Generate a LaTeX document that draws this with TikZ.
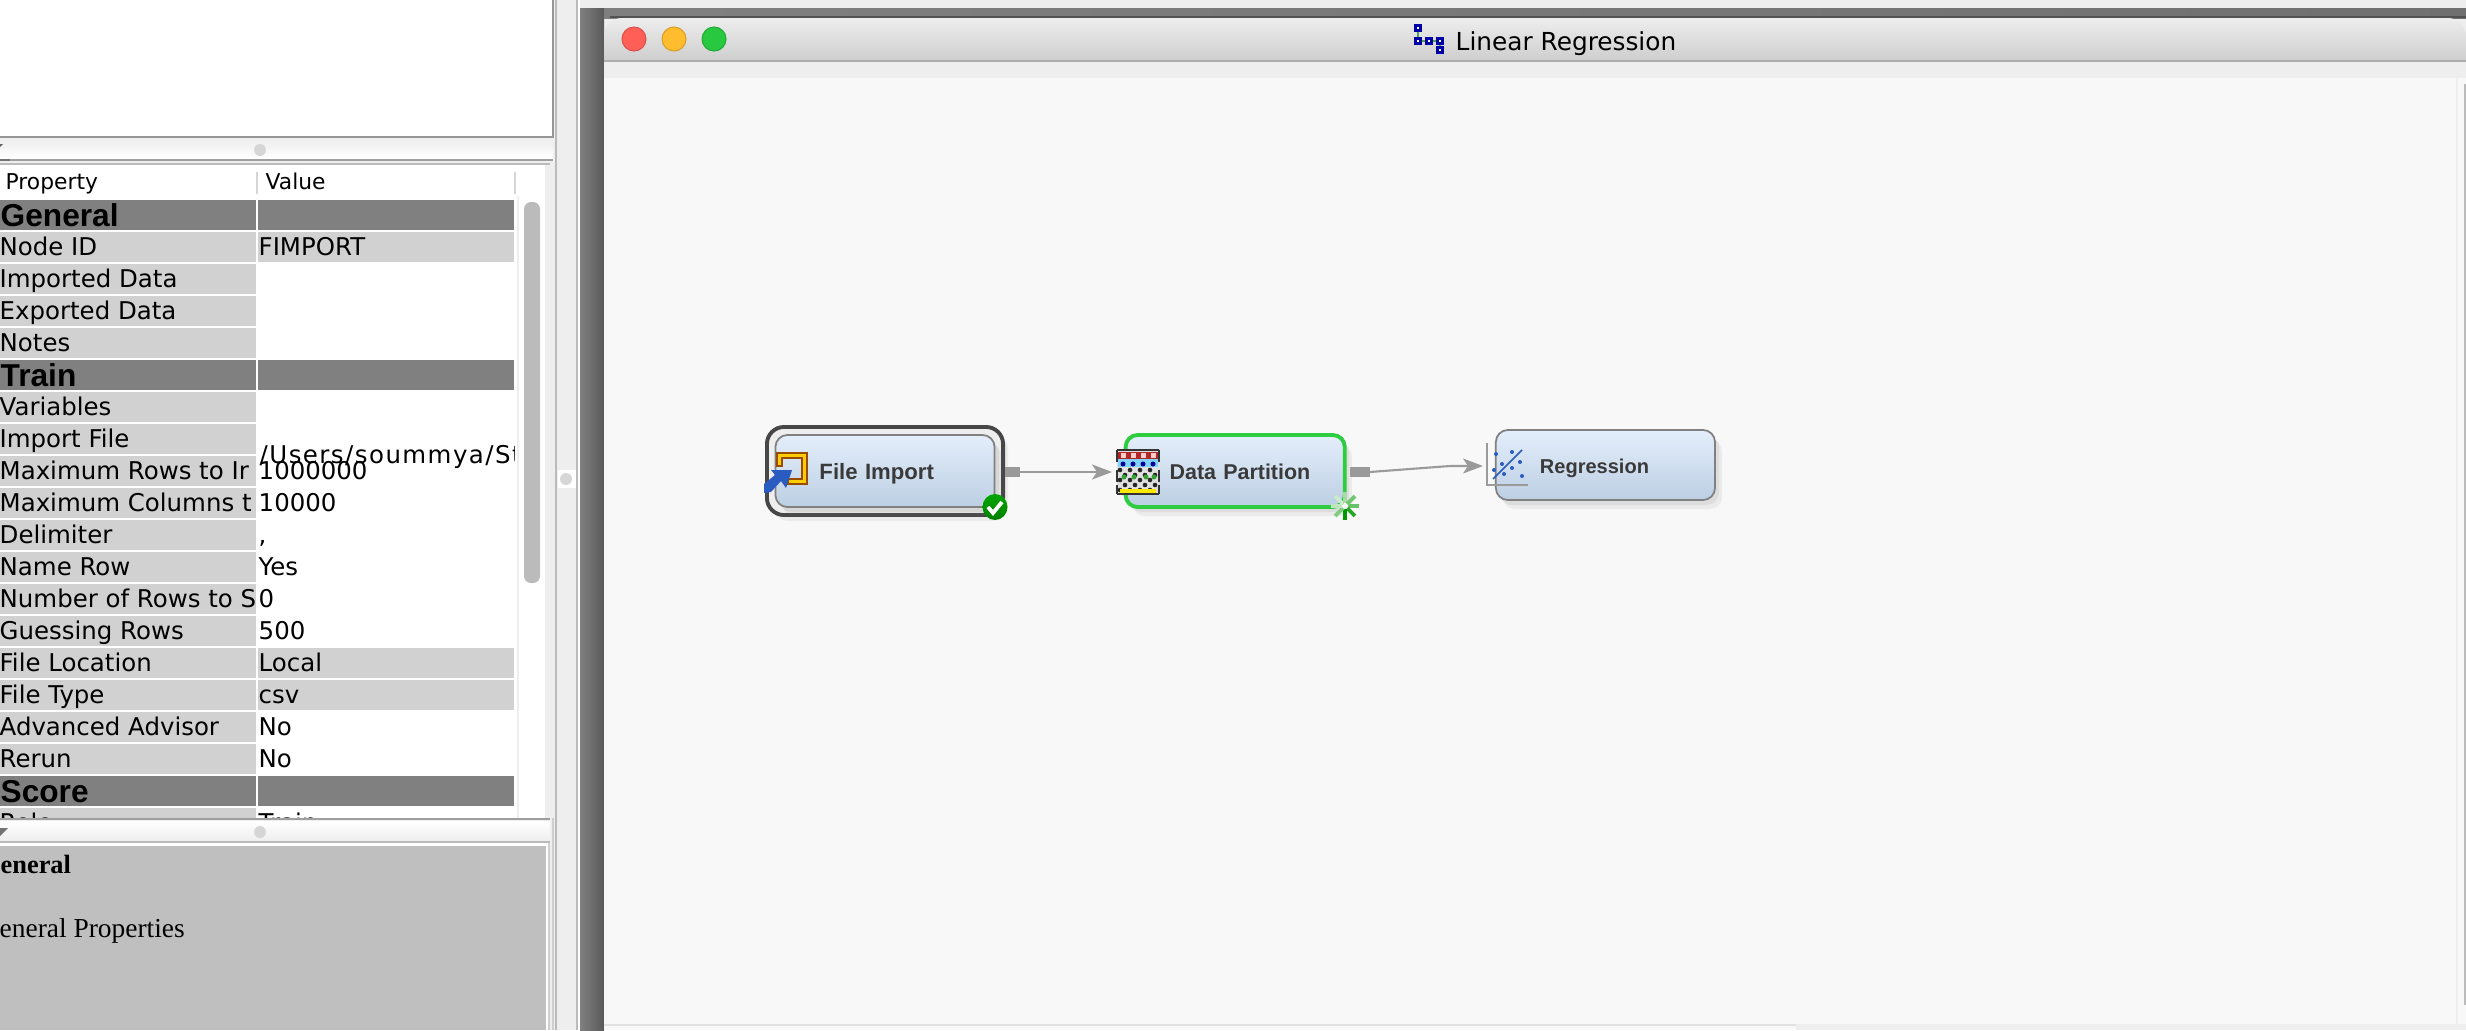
\documentclass[tikz,border=0pt]{standalone}
\usepackage{fontspec}
\setmainfont{Liberation Sans}
\newfontfamily\panelfont{DejaVu Sans}
\newfontfamily\helpfont{Liberation Serif}
\usetikzlibrary{arrows.meta, positioning, shadows}

\definecolor{chrome}{HTML}{EEEEEE}
\definecolor{canvas}{HTML}{F8F8F8}
\definecolor{cellgray}{HTML}{D1D1D1}
\definecolor{headgray}{HTML}{808080}
\definecolor{helpgray}{HTML}{BFBFBF}
\definecolor{linegray}{HTML}{BBBBBB}
\definecolor{flowgray}{HTML}{9A9A9A}
\definecolor{labeldark}{HTML}{3A3A3A}
\definecolor{selectgreen}{HTML}{2ECC40}
\definecolor{iconblue}{HTML}{2A5BC0}
\definecolor{blocktop}{HTML}{E4EEFB}
\definecolor{blockbottom}{HTML}{BCCFE3}
\definecolor{closered}{HTML}{FF5F57}
\definecolor{minyellow}{HTML}{FEBC2E}
\definecolor{zoomgreen}{HTML}{28C840}

\begin{document}
\begin{tikzpicture}[
    x=0.01cm, y=-0.01cm,
    % --- STYLES ---
    proptext/.style={anchor=base west, inner sep=0pt, font=\panelfont\fontsize{6.95pt}{8pt}\selectfont},
    columnhead/.style={proptext, font=\panelfont\fontsize{6.2pt}{8pt}\selectfont},
    headtext/.style={anchor=base west, inner sep=0pt, font=\bfseries\fontsize{9pt}{10pt}\selectfont},
    helptext/.style={anchor=base west, inner sep=0pt, font=\helpfont\fontsize{7.8pt}{9pt}\selectfont},
    titletext/.style={proptext, font=\panelfont\fontsize{7.05pt}{8pt}\selectfont},
    block/.style={draw=black!50, line width=0.5pt, rounded corners=0.12cm, outer sep=0pt,
        top color=blocktop, bottom color=blockbottom,
        text width=2.19cm, inner xsep=0pt, inner ysep=0pt, minimum height=0.72cm, align=left,
        text height=0.2cm, text depth=0.04cm,
        text=labeldark, font=\bfseries\fontsize{6.3pt}{7.5pt}\selectfont,
        execute at begin node=\hspace*{0.44cm},
        drop shadow={shadow xshift=0.07cm, shadow yshift=-0.09cm, opacity=0.10},
        drop shadow={shadow xshift=0.04cm, shadow yshift=-0.05cm, opacity=0.12}},
    selectframe/.style={draw=black!72, line width=1.1pt, rounded corners=0.17cm, fill=chrome,
        minimum width=2.36cm, minimum height=0.88cm, inner sep=0pt, outer sep=0pt,
        drop shadow={shadow xshift=0.05cm, shadow yshift=-0.06cm, opacity=0.10}},
    portbox/.style={fill=flowgray, minimum height=0.10cm, inner sep=0pt, outer sep=0pt},
    flow/.style={-{Stealth[length=0.2cm, width=0.15cm, inset=0.05cm]}, draw=flowgray, line width=0.6pt},
    light/.style={circle, inner sep=0pt, outer sep=0pt, minimum size=0.24cm, line width=0.3pt}
]

    % ==========================================
    % WINDOW CHROME
    % ==========================================
    \useasboundingbox (0,0) rectangle (2466,1030);
    \fill[chrome] (0,0) rectangle (2466,1030);

    % Left panels
    \fill[white] (0,0) rectangle (552,136);
    \fill[linegray!80!black] (0,136) rectangle (553,138);
    \fill[linegray!80!black] (552,0) rectangle (554,138);
    \fill[linegray] (555,0) rectangle (557,1030);
    \fill[linegray] (576,0) rectangle (578,1030);
    \fill[white] (578,0) rectangle (580,1030);
    \fill[white] (558,470) rectangle (576,488);
    \fill[chrome!90!black] (566,479) circle (6);

    % Upper splitter
    \shade[top color=chrome, bottom color=white] (0,140) rectangle (553,159);
    \fill[chrome!90!black] (260,150) circle (6);
    \fill[black!60] (0,144) -- (3,144) -- (0,147) -- cycle;
    \fill[linegray!85!black] (0,159) rectangle (553,161);
    \fill[black!55] (0,159) rectangle (10,161);
    \fill[linegray] (0,163) rectangle (550,165);

    % ==========================================
    % PROPERTY TABLE
    % ==========================================
    \fill[white] (0,165) rectangle (546,818);
    \fill[chrome!90!black] (256,172) rectangle (258,194);
    \fill[chrome!90!black] (514,172) rectangle (516,194);
    \node[columnhead] (prophead) at (5,189) {Property};
    \node[columnhead] (valuehead) at (265,189) {Value};

    % Scrollbar
    \fill[chrome] (517,196) rectangle (519,818);
    \fill[chrome] (545,165) rectangle (547,818);
    \fill[linegray, rounded corners=0.07cm] (524,202) rectangle (540,583);

    \begin{scope}
        \clip (0,165) rectangle (546,818);
        % Section bands
        \foreach \rowid in {0, 5, 18}{
            \pgfmathtruncatemacro{\rowtop}{200+32*\rowid}
            \pgfmathtruncatemacro{\rowbot}{\rowtop+30}
            \fill[headgray] (0,\rowtop) rectangle (256,\rowbot);
            \fill[headgray] (258,\rowtop) rectangle (514,\rowbot);
        }
        % Left column, clipped at its right edge
        \begin{scope}
            \clip (0,165) rectangle (256,818);
            \foreach \rowid/\rowname in {1/Node ID, 2/Imported Data, 3/Exported Data, 4/Notes, 6/Variables,
                7/Import File, 8/Maximum Rows to Ir, 9/Maximum Columns t, 10/Delimiter, 11/Name Row,
                12/Number of Rows to S, 13/Guessing Rows, 14/File Location, 15/File Type,
                16/Advanced Advisor, 17/Rerun, 19/Role}{
                \pgfmathtruncatemacro{\rowtop}{200+32*\rowid}
                \pgfmathtruncatemacro{\rowbot}{\rowtop+30}
                \pgfmathtruncatemacro{\rowbase}{\rowtop+23}
                \fill[cellgray] (0,\rowtop) rectangle (256,\rowbot);
                \node[proptext] (prop\rowid) at (-1,\rowbase) {\rowname};
            }
            \foreach \rowid/\rowname in {0/General, 5/Train, 18/Score}{
                \pgfmathtruncatemacro{\rowbase}{200+32*\rowid+26}
                \node[headtext] (prop\rowid) at (0,\rowbase) {\rowname};
            }
        \end{scope}
        % Value column
        \foreach \rowid in {1, 14, 15}{
            \pgfmathtruncatemacro{\rowtop}{200+32*\rowid}
            \pgfmathtruncatemacro{\rowbot}{\rowtop+30}
            \fill[cellgray] (258,\rowtop) rectangle (514,\rowbot);
        }
        \foreach \rowid/\rowvalue in {1/FIMPORT, 8/1000000, 9/10000, 10/{,}, 11/Yes,
            12/0, 13/500, 14/Local, 15/csv, 16/No, 17/No, 19/Train}{
            \pgfmathtruncatemacro{\rowbase}{200+32*\rowid+23}
            \node[proptext] (value\rowid) at (258,\rowbase) {\rowvalue};
        }
        \begin{scope}
            \clip (258,440) rectangle (514,470);
            \node[proptext] (value7) at (259,447+16) {\addfontfeature{LetterSpace=6}/Users/soummya/St};
        \end{scope}
    \end{scope}

    % Lower splitter
    \fill[linegray!85!black] (0,818) rectangle (550,820);
    \shade[top color=white, bottom color=chrome] (0,821) rectangle (550,841);
    \fill[chrome!90!black] (260,832) circle (6);
    \fill[black!55] (0,828) -- (8,828) -- (0,836) -- cycle;
    \fill[linegray] (0,841) rectangle (550,843);
    \fill[white] (0,843) rectangle (548,1030);

    % Help panel
    \fill[helpgray] (0,846) rectangle (546,1030);
    \fill[linegray!70] (548,843) rectangle (550,1030);
    \fill[linegray!70] (552,818) rectangle (554,1030);
    \node[helptext, font=\helpfont\bfseries\fontsize{7.5pt}{9pt}\selectfont] (helphead) at (0,873) {eneral};
    \node[helptext] (helpbody) at (-1,937) {eneral Properties};

    % Window behind
    \shade[left color=black!50, right color=black!65] (580,8) rectangle (604,1030);
    \shade[left color=black!50, right color=black!56] (604,8) rectangle (2466,18);
    \fill[black!68] (610,16) rectangle (2466,18);

    % Title bar
    \shade[top color=chrome!105!white, bottom color=black!19]
        (604,60) [rounded corners=0.18cm] -- (604,18) -- (2466,18) [sharp corners] -- (2466,60) -- cycle;
    \fill[black!32] (604,60) rectangle (2466,62);
    \fill[chrome] (604,62) rectangle (2466,78);
    \fill[canvas] (604,78) rectangle (2456,1024);
    \fill[chrome!95!black] (604,1024) rectangle (1796,1026);
    \fill[canvas] (604,1026) rectangle (1796,1030);
    \fill[canvas] (2458,78) rectangle (2466,1024);
    \fill[linegray] (2464,84) rectangle (2466,1005);

    \node[light, fill=closered, draw=closered!85!black] (closelight) at (634,39) {};
    \node[light, fill=minyellow, draw=minyellow!85!black, right=0.16cm of closelight] (minlight) {};
    \node[light, fill=zoomgreen, draw=zoomgreen!85!black, right=0.16cm of minlight] (zoomlight) {};

    % Title icon and text
    \draw[green!50!black!70, line width=0.6pt] (1418,28) -- (1418,41) -- (1440,41) -- (1440,50);
    \foreach \px/\py in {1418/28, 1418/41, 1429/41, 1440/41, 1440/50}{
        \draw[draw=blue!65!black, fill=white, line width=0.7pt] (\px-2.5,\py-2.5) rectangle (\px+2.5,\py+2.5);
    }
    \node[titletext] (windowtitle) at (1455,50) {Linear Regression};

    % ==========================================
    % PROCESS FLOW
    % ==========================================
    \node[selectframe] (importframe) at (885,471) {};
    \node[block] (fileimport) at (importframe) {File Import};
    \node[block, draw=selectgreen, line width=1.1pt, right=1.31cm of fileimport,
          font=\bfseries\fontsize{6.1pt}{7.5pt}\selectfont] (datapartition) {Data Partition};
    \node[block, right=1.51cm of datapartition, yshift=0.06cm, minimum height=0.70cm,
          font=\bfseries\fontsize{5.7pt}{7pt}\selectfont] (regression) {Regression};

    % Ports and connectors
    \node[portbox, minimum width=0.15cm, right=0.02cm of importframe, yshift=-0.01cm] (importport) {};
    \node[portbox, minimum width=0.20cm, right=0.05cm of datapartition, yshift=-0.01cm] (partitionport) {};
    \coordinate (partitionin) at (1112,472);
    \coordinate (regressionbend) at (1450,466);
    \coordinate (regressionin) at (1483,466);
    \draw[flow] (importport.east) -- (partitionin);
    \draw[flow] (partitionport.east) -- (regressionbend) -- (regressionin);

    % ==========================================
    % NODE ICONS
    % ==========================================

    % File Import icon
    \draw[draw=orange!60!black, fill=yellow!65!orange, line width=0.3pt]
        (777,453) -- (807,453) -- (807,484) -- (788,484) -- (788,479) -- (802,479) -- (802,458)
        -- (782,458) -- (782,466) -- (777,466) -- cycle;
    \fill[iconblue] (764,493) -- (764,484) -- (775,475) -- (771,470) -- (792,470) -- (786,488) -- (781,481) -- (771,492) -- cycle;

    % Status badge
    \shade[top color=green!65!black, bottom color=green!50!black] (995,507) ellipse (12.5 and 13);
    \draw[white, line width=1.1pt] (988,507) -- (993,513) -- (1002,502);

    % Data Partition icon
    \fill[black!12] (1117,451) rectangle (1159,494);
    \fill[red!65!black!85] (1118,452) rectangle (1158,459);
    \fill[blue!35!cyan!50] (1118,459) rectangle (1158,467);
    \foreach \cx in {1123, 1133, 1143, 1153}{
        \fill[white!80!red] (\cx-2.5,453) rectangle (\cx+2.5,458);
        \fill[blue!60!black] (\cx,464) circle (2.5);
    }
    \foreach \cy/\cshift in {470/0, 475/5, 480/0, 485/5, 490/0}{
        \foreach \cx in {1120, 1130, 1140, 1150}{
            \fill[black!85] (\cx+\cshift,\cy) circle (2.3);
        }
    }
    \foreach \cx in {1124, 1134, 1146, 1154}{
        \fill[green!55!black!80] (\cx,477) circle (2.5);
    }
    \fill[yellow!90!orange] (1120,489) rectangle (1156,493);
    \foreach \ctop/\cbot in {450/462, 470/482, 485/494}{
        \draw[black!80, line width=0.5pt] (1117,\ctop) -- (1117,\cbot) (1159,\ctop) -- (1159,\cbot);
    }
    \draw[black!80, line width=0.5pt] (1117,450) -- (1159,450) (1117,494) -- (1159,494);

    % Running indicator
    \fill[white] (1345,506) circle (3);
    \foreach \spokeangle/\spokeshade in {0/60, 45/85, 90/100, 135/50, 180/25, 225/20, 270/35, 315/55}{
        \draw[green!60!black!\spokeshade!white, line width=1.1pt]
            (1345,506) ++(\spokeangle:3) -- ++(\spokeangle:11);
    }

    % Regression icon
    \draw[flowgray, line width=0.6pt] (1487,443) -- (1487,485) -- (1528,485);
    \draw[iconblue, line width=0.45pt] (1493,479) -- (1522,450);
    \foreach \px/\py in {1496/454, 1512/452, 1502/464, 1520/462, 1494/470, 1512/468, 1504/474, 1522/476}{
        \fill[iconblue] (\px,\py) circle (2);
    }

\end{tikzpicture}
\end{document}
